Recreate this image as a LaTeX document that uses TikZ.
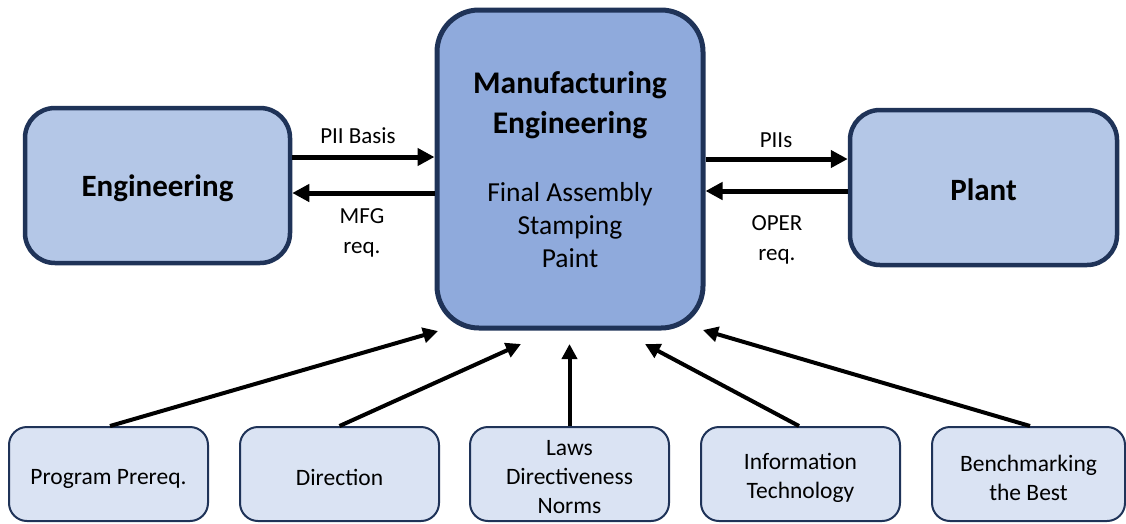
\documentclass[tikz,border=0pt]{standalone}
\usepackage{fontspec}
\setmainfont{Carlito}
\usetikzlibrary{arrows.meta}
\definecolor{edgenavy}{HTML}{1F3358}
\definecolor{sidefill}{HTML}{B4C7E7}
\definecolor{corefill}{HTML}{8FAADC}
\definecolor{inputfill}{HTML}{DAE3F3}
\tikzset{
  sidebox/.style={draw=edgenavy, fill=sidefill, line width=4.5pt, rounded corners=30pt,
    minimum width=265pt, minimum height=155pt, inner sep=0pt},
  sidetext/.style={inner sep=0pt, font=\fontsize{31}{38}\selectfont\bfseries},
  corebox/.style={draw=edgenavy, fill=corefill, line width=5pt, rounded corners=42pt,
    minimum width=266pt, minimum height=318pt, inner sep=0pt},
  inputbox/.style={draw=edgenavy, fill=inputfill, line width=2pt, rounded corners=18pt,
    minimum width=199pt, minimum height=94pt, inner sep=0pt},
  inputtext/.style={align=center, inner sep=0pt, font=\fontsize{23.5}{29}\selectfont},
  flowlabel/.style={align=center, inner sep=0pt, font=\fontsize{23}{29.5}\selectfont},
  headtext/.style={align=center, inner sep=0pt, font=\fontsize{31.5}{40}\selectfont\bfseries},
  bodytext/.style={align=center, inner sep=0pt, font=\fontsize{27.5}{33}\selectfont},
  flowarrow/.style={line width=5pt, -{Triangle[length=17pt,width=17pt]}},
  feedarrow/.style={line width=4pt, -{Triangle[length=15pt,width=15pt]}},
}
\begin{document}
\begin{tikzpicture}[x=1pt, y=-1pt]
\useasboundingbox (0,0) rectangle (1126,523);

% main blocks
\node[sidebox] (eng) at (157.5,185.5) {};
\node[corebox] (mfg) at (570,169) {};
\node[sidebox, minimum width=267pt] (plant) at (983.5,187.5) {};

\node[sidetext] (engtext) at ([yshift=-3pt]eng.center) {Engineering};
\node[sidetext] (planttext) at ([yshift=-2pt]plant.center) {Plant};
\node[headtext] (mfghead) at (570,105.5) {Manufacturing\\Engineering};
\node[bodytext] (mfgbody) at (570,225) {Final Assembly\\Stamping\\Paint};

% exchanges with engineering and the plant
\coordinate (engout) at ([yshift=28.5pt]eng.east);
\coordinate (engin)  at ([yshift=-7.5pt]eng.east);
\coordinate (plantin)  at ([yshift=28.5pt]plant.west);
\coordinate (plantout) at ([yshift=-3.5pt]plant.west);

\draw[flowarrow] (engout) -- (engout -| mfg.west);
\draw[flowarrow] (engin -| mfg.west) -- (engin);
\draw[flowarrow] (plantin -| mfg.east) -- (plantin);
\draw[flowarrow] (plantout) -- (plantout -| mfg.east);

\node[flowlabel] (lblbasis) at (358,136) {PII Basis};
\node[flowlabel] (lblmfg)   at (362,233) {MFG\\req.};
\node[flowlabel] (lblpii)   at (776,140) {PIIs};
\node[flowlabel] (lbloper)  at (777,240) {OPER\\req.};

% inputs along the bottom
\node[inputbox] (prereq) at (108.5,474) {};
\node[inputbox] (direct) at (339.5,474) {};
\node[inputbox] (laws)   at (569.5,474) {};
\node[inputbox] (infotech) at (800.5,474) {};
\node[inputbox, minimum width=193pt] (bench) at (1028.5,474) {};

\node[inputtext] (prereqtext) at ([yshift=-4.5pt]prereq.center) {Program Prereq.};
\node[inputtext] (directtext) at ([yshift=-3.5pt]direct.center) {Direction};
\node[inputtext] (lawstext) at ([yshift=-3.5pt]laws.center) {Laws\\Directiveness\\Norms};
\node[inputtext] (infotechtext) at ([yshift=-4pt]infotech.center) {Information\\Technology};
\node[inputtext] (benchtext) at ([yshift=-4pt]bench.center) {Benchmarking\\the Best};

\coordinate (tip1) at (438,331);
\coordinate (tip2) at (521,344);
\coordinate (tip3) at (569.5,344);
\coordinate (tip4) at (645,344);
\coordinate (tip5) at (703,330);

\draw[feedarrow] ([xshift=1.5pt]prereq.north) -- (tip1);
\draw[feedarrow] (direct.north) -- (tip2);
\draw[feedarrow] (laws.north) -- (tip3);
\draw[feedarrow] ([xshift=-1.5pt]infotech.north) -- (tip4);
\draw[feedarrow] ([xshift=1.5pt]bench.north) -- (tip5);
\end{tikzpicture}
\end{document}
